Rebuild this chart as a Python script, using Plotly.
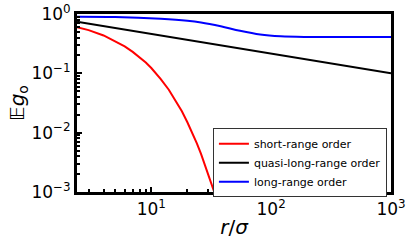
import plotly.graph_objects as go
import numpy as np

# Data
r_short = [2.4, 3, 4, 5, 6, 7, 8, 9, 10, 11, 12, 14, 16, 18, 20, 22, 24, 26, 28, 30, 32, 34, 36, 38]
g_short = [0.60, 0.535, 0.435, 0.35, 0.285, 0.23, 0.188, 0.152, 0.123, 0.099, 0.080,
           0.053, 0.035, 0.023, 0.015, 0.0100, 0.0066, 0.0044, 0.0029, 0.0019,
           0.0013, 0.00092, 0.00060, 0.00040]

r_quasi = [2.4, 1000]
g_quasi = [0.74, 0.10]

r_long = [2.4, 5, 12, 20, 26, 38, 55, 81, 120, 200, 1000]
g_long = [0.90, 0.89, 0.83, 0.77, 0.72, 0.62, 0.52, 0.45, 0.42, 0.41, 0.41]

labels = ["short-range order", "quasi-long-range order", "long-range order"]
colors = ["#ff0000", "#000000", "#0000ff"]

x_tickvals = [10, 100, 1000]
x_ticktext = ["10<sup>1</sup>", "10<sup>2</sup>", "10<sup>3</sup>"]
y_tickvals = [0.001, 0.01, 0.1, 1]
y_ticktext = ["10<sup>−3</sup>", "10<sup>−2</sup>", "10<sup>−1</sup>", "10<sup>0</sup>"]

x_minor = [3, 4, 5, 6, 7, 8, 9, 20, 30, 40, 50, 60, 70, 80, 90,
           200, 300, 400, 500, 600, 700, 800, 900]
y_minor = [k * 10.0 ** e for e in (-3, -2, -1) for k in range(2, 10)]

FONT = "DejaVu Sans"

fig = go.Figure()
shapes = ["linear", "linear", "spline"]
for r, g, name, c, sh in zip([r_short, r_quasi, r_long], [g_short, g_quasi, g_long], labels, colors, shapes):
    fig.add_trace(go.Scatter(x=r, y=g, mode="lines", name=name,
                             line=dict(color=c, width=2, shape=sh)))

axis_common = dict(type="log", showgrid=False, zeroline=False, showline=True, linecolor="black",
                   linewidth=3, mirror=True, ticks="inside", ticklen=5, tickwidth=2, tickcolor="black",
                   automargin=False,
                   tickfont=dict(family=FONT, size=17, color="black"))

fig.update_xaxes(**axis_common, range=[np.log10(2.4), 3], tickvals=x_tickvals, ticktext=x_ticktext,
                 minor=dict(tickvals=x_minor, ticks="inside", ticklen=3, tickwidth=1.5, tickcolor="black"),
                 title=dict(text="<i>r</i>/<i>σ</i>", font=dict(family=FONT, size=20, color="black"), standoff=2))
fig.update_yaxes(**axis_common, range=[-3, 0], tickvals=y_tickvals, ticktext=y_ticktext,
                 minor=dict(tickvals=y_minor, ticks="inside", ticklen=3, tickwidth=1.5, tickcolor="black"),
                 title=dict(text="𝔼<i>g</i><sub>o</sub>", font=dict(family=FONT, size=20, color="black"), standoff=2))

fig.update_layout(
    width=416, height=246,
    margin=dict(l=77, r=25, t=14, b=54),
    paper_bgcolor="white", plot_bgcolor="white",
    font=dict(family=FONT, color="black"),
    legend=dict(x=0.987, y=0.165, xanchor="right", yanchor="middle",
                bgcolor="white", bordercolor="#333", borderwidth=1,
                font=dict(family=FONT, size=11, color="black"),
                tracegroupgap=0, itemwidth=30),
    showlegend=True,
)

fig.write_html("out.html", config={"displayModeBar": False},
               post_script="document.body.style.margin='0px';document.body.style.overflow='hidden';")
